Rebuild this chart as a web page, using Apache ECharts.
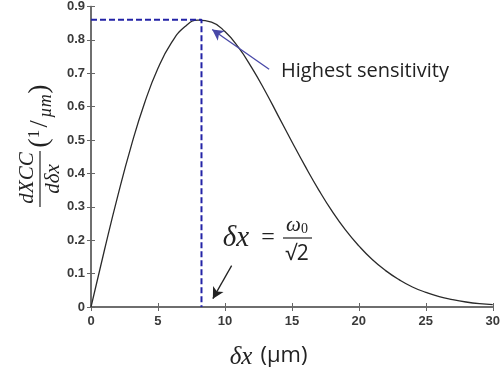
<!DOCTYPE html>
<html>
<head>
<meta charset="utf-8">
<script src="https://cdn.jsdelivr.net/npm/echarts@6/dist/echarts.min.js"></script>
<style>
  html, body { margin: 0; padding: 0; background: #fff; }
  #chart { width: 503px; height: 375px; }
</style>
</head>
<body>
<div id="chart"></div>
<script>
// values (x in µm, y in 1/µm)
const xValues = [0, 1, 2, 3, 4, 5, 6, 7, 8, 9, 10, 11, 12, 13, 14, 15, 16, 17, 18, 19, 20, 21, 22, 23, 24, 25, 26, 27, 28, 29, 30];
const sensitivity = [0, 0.17, 0.333, 0.482, 0.611, 0.715, 0.791, 0.839, 0.859, 0.853, 0.825, 0.778, 0.717, 0.647, 0.571, 0.495, 0.421, 0.351, 0.287, 0.231, 0.183, 0.142, 0.109, 0.082, 0.06, 0.044, 0.031, 0.022, 0.015, 0.01, 0.007];

// peak marker (dashed guides)
const peakX = 8.25;
const peakY = 0.86;

// annotation arrows: [tail, tip] in data coords
const peakArrow = [[13.3, 0.712], [9.05, 0.831]];
const formulaArrow = [[10.5, 0.124], [9.1, 0.025]];

const xMin = 0, xMax = 30, xStep = 5;
const yMin = 0, yMax = 0.9, yStep = 0.1;

const chart = echarts.init(document.getElementById('chart'));

const frameColor = '#666';
const tickLabel = { color: '#3a3a3a', fontSize: 13, fontWeight: 'bold', fontFamily: 'Liberation Sans' };
const mathFont = '"Liberation Serif"';
const ink = '#222';

const curve = xValues.map((x, i) => [x, sensitivity[i]]);
const guide = [[0, peakY], [peakX, peakY], [peakX, 0]];

function mathText(x, y, text, font) {
  return { type: 'text', x, y, style: { text, font, fill: ink, align: 'center', verticalAlign: 'middle' } };
}

const option = {
  backgroundColor: '#fff',
  animation: false,
  grid: { left: 91, right: 7, top: 5, bottom: 68 },
  xAxis: [
    {
      type: 'value', min: xMin, max: xMax, interval: xStep,
      axisLine: { lineStyle: { color: frameColor, width: 1.5 } },
      axisTick: { inside: true, length: 4, lineStyle: { color: frameColor } },
      axisLabel: { ...tickLabel, margin: 8 },
      splitLine: { show: false },
    },
    {
      type: 'value', min: xMin, max: xMax, interval: xStep, position: 'top',
      axisLine: { show: true, lineStyle: { color: frameColor, width: 1.5 } },
      axisTick: { show: true, inside: true, length: 4, lineStyle: { color: frameColor } },
      axisLabel: { show: false },
      splitLine: { show: false },
    },
  ],
  yAxis: [
    {
      type: 'value', min: yMin, max: yMax, interval: yStep,
      axisLine: { show: true, lineStyle: { color: frameColor, width: 1.5 } },
      axisTick: { show: true, inside: true, length: 4, lineStyle: { color: frameColor } },
      axisLabel: { ...tickLabel, margin: 6 },
      splitLine: { show: false },
    },
    {
      type: 'value', min: yMin, max: yMax, interval: yStep, position: 'right',
      axisLine: { show: true, lineStyle: { color: frameColor, width: 1.5 } },
      axisTick: { show: true, inside: true, length: 4, lineStyle: { color: frameColor } },
      axisLabel: { show: false },
      splitLine: { show: false },
    },
  ],
  series: [
    {
      name: 'dXCC/dδx',
      type: 'line',
      data: curve,
      smooth: true,
      symbol: 'none',
      lineStyle: { color: '#2a2a2a', width: 1.3 },
      markLine: {
        silent: true,
        symbol: ['none', 'arrow'],
        symbolSize: [9, 11],
        label: { show: false },
        data: [
          [
            { coord: peakArrow[0], lineStyle: { color: '#4848a8', width: 1.3, type: 'solid' } },
            { coord: peakArrow[1] },
          ],
          [
            { coord: formulaArrow[0], lineStyle: { color: ink, width: 1.3, type: 'solid' } },
            { coord: formulaArrow[1] },
          ],
        ],
      },
    },
    {
      name: 'peak',
      type: 'line',
      data: guide,
      symbol: 'none',
      lineStyle: { color: '#2323a6', width: 2, type: [6, 3] },
    },
  ],
  graphic: [
    {
      type: 'text', left: 281, top: 61,
      style: { text: 'Highest sensitivity', font: '20px "Open Sans"', fill: ink },
    },
    // x axis name: δx (µm)
    mathText(241, 357, 'δx', 'italic 25px ' + mathFont),
    mathText(284, 356, '(µm)', '22px "Open Sans"'),
    // formula δx = ω0/√2
    mathText(236, 238, 'δx', 'italic 29px ' + mathFont),
    mathText(268, 238, '=', '24px ' + mathFont),
    {
      type: 'text', x: 297, y: 225,
      style: { text: '{w|ω}{s|0}', fill: ink, align: 'center', verticalAlign: 'middle',
        rich: { w: { font: 'italic 21px ' + mathFont }, s: { font: '14px ' + mathFont, padding: [8, 0, 0, 0] } } },
    },
    {
      type: 'line', shape: { x1: 283, y1: 238, x2: 312, y2: 238 },
      style: { stroke: ink, lineWidth: 1.2 },
    },
    mathText(297, 254, '√2', '21px "Open Sans"'),
    // y axis name: dXCC/dδx (1/µm), rotated
    {
      type: 'group', x: 40, y: 147, rotation: Math.PI / 2,
      children: [
        mathText(-31, -13, 'dXCC', 'italic 21px ' + mathFont),
        { type: 'line', shape: { x1: -60, y1: 0, x2: -4, y2: 0 }, style: { stroke: ink, lineWidth: 1.2 } },
        mathText(-32, 13, 'dδx', 'italic 21px ' + mathFont),
        mathText(4, 0, '(', '28px ' + mathFont),
        mathText(13, -5, '1', '17px ' + mathFont),
        mathText(23, 0, '/', '26px ' + mathFont),
        mathText(41, 6, 'µm', 'italic 18px ' + mathFont),
        mathText(58, 0, ')', '28px ' + mathFont),
      ],
    },
  ],
};

chart.setOption(option);
</script>
</body>
</html>
